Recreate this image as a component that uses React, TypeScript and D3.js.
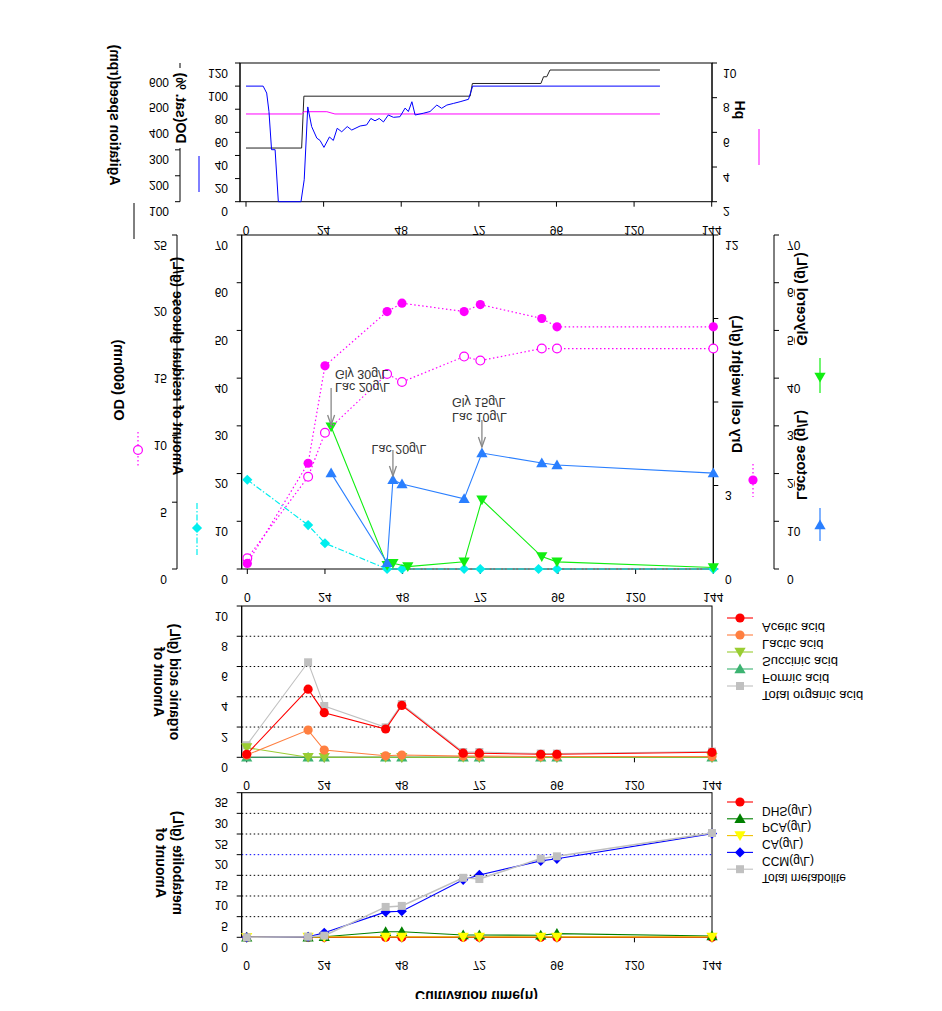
import React from 'react';
import * as d3 from 'd3';

const FONT = '"Liberation Sans", Arial, Helvetica, sans-serif';

// ---------------- shared ----------------
const timeTicks = [0, 24, 48, 72, 96, 120, 144];

// ---------------- panel 1: DO / agitation / pH ----------------
const doTicks = [0, 20, 40, 60, 80, 100, 120];
const agitationTicks = [100, 200, 300, 400, 500, 600];
const phTicks = [2, 4, 6, 8, 10];

const doTime = [0, 5.3, 6.4, 7.1, 7.9, 9.0, 10.0, 17.0, 18.0, 19.1, 20.3, 21.9, 22.9, 24.1, 25.8, 27.0, 28.2, 29.6, 31.3, 32.7, 35.3, 37.3, 38.6, 39.9, 41.2, 42.5, 44.0, 45.6, 47.6, 49.2, 50.2, 51.3, 52.3, 54.8, 56.9, 59.0, 60.5, 62.1, 64.1, 66.2, 68.8, 70.1, 128];
const doValues = [100, 100, 94, 78, 45, 45, 0, 0, 19, 82, 65, 55, 53, 47, 56, 53, 63.5, 60.5, 65, 62, 65.5, 66.4, 72, 70, 72, 69, 75, 73, 73.5, 81, 78, 86.5, 75, 76.5, 78, 83.6, 80.8, 83.6, 85, 86.5, 88.6, 100, 100];

const agitationTime = [0, 17.2, 17.9, 69.3, 70.0, 91.2, 92.0, 93.0, 94.0, 128];
const agitationValues = [307, 307, 507, 507, 556, 556, 582, 582, 608, 608];

const phTime = [0, 17.2, 18.0, 25.0, 27.5, 128];
const phValues = [7.06, 7.06, 7.19, 7.19, 7.06, 7.06];

// ---------------- panel 2: growth, substrates ----------------
const glucoseTicks = [0, 10, 20, 30, 40, 50, 60, 70];
const odTicks = [0, 5, 10, 15, 20, 25];
const dcwTicks = [0, 3, 6, 9, 12];
const lacGlyTicks = [0, 10, 20, 30, 40, 50, 60, 70];

const odTime = [0, 18.8, 24, 43.2, 47.8, 67, 72, 91, 95.7, 144];
const odValues = [0.8, 6.9, 10.2, 14.6, 14.0, 15.9, 15.6, 16.5, 16.5, 16.5];
const dcwValues = [0.2, 3.8, 7.3, 9.25, 9.55, 9.25, 9.5, 9.0, 8.7, 8.7];

const glucoseTime = [0, 18.8, 24, 43.2, 47.8, 67, 72, 90, 95.7, 144];
const glucoseValues = [18.7, 9.2, 5.4, 0, 0, 0, 0, 0, 0, 0];

const lactoseTime = [25.9, 43.2, 45, 47.8, 67, 72.5, 91, 95.7, 144];
const lactoseValues = [20.1, 1.3, 18.7, 17.8, 14.7, 24.3, 22.2, 21.8, 20.1];

const glycerolTime = [25.9, 43.2, 45, 49.6, 67, 72.5, 91, 95.7, 144];
const glycerolValues = [29.8, 0.8, 1.2, 0.5, 1.5, 14.5, 2.6, 1.5, 0.3];

const feedTimes = [25.9, 45, 72.5];
const feedLabels = [["Gly 30g/L", "Lac 20g/L"], ["Lac 20g/L"], ["Gly 15g/L", "Lac 10g/L"]];

// ---------------- panel 3: organic acids ----------------
const acidTicks = [0, 2, 4, 6, 8, 10];
const acidTime = [0, 19, 24, 43, 48, 67, 72, 91, 96, 144];
const aceticValues = [0.2, 4.5, 2.95, 1.87, 3.43, 0.27, 0.27, 0.2, 0.2, 0.33];
const lacticValues = [0.15, 1.8, 0.48, 0.1, 0.15, 0.08, 0.08, 0.05, 0.05, 0.05];
const succinicValues = [0.64, 0, 0, 0, 0, 0, 0, 0, 0, 0];
const formicValues = [0, 0, 0, 0, 0, 0, 0, 0, 0, 0];
const totalAcidValues = [0.8, 6.28, 3.39, 1.98, 3.52, 0.35, 0.35, 0.25, 0.25, 0.38];
const acidNames = ["Acetic acid", "Lactic acid", "Succinic acid", "Formic acid", "Total organic acid"];

// ---------------- panel 4: metabolites ----------------
const metTicks = [0, 5, 10, 15, 20, 25, 30, 35];
const metTime = [0, 19, 24, 43, 48, 67, 72, 91, 96, 144];
const dhsValues = [0, 0, 0, 0, 0, 0, 0, 0, 0, 0];
const pcaValues = [0, 0, 0.15, 1.35, 1.35, 0.55, 0.55, 0.5, 0.9, 0.3];
const caValues = [0, 0.05, 0.1, 0.1, 0.1, 0.1, 0.1, 0.1, 0.1, 0.1];
const ccmValues = [0, 0.1, 1.1, 6.15, 6.3, 13.9, 15.1, 18.5, 19.0, 25.1];
const totalMetValues = [0, 0.15, 0.4, 7.35, 7.6, 14.4, 14.1, 19.05, 19.6, 25.25];
const metNames = ["DHS(g/L)", "PCA(g/L)", "CA(g/L)", "CCM(g/L)", "Total metabolite"];

// ---------------- helpers ----------------
type TP = { x: number; y: number; children: React.ReactNode; anchor?: string; size?: number; weight?: number; fill?: string; rotate?: boolean };
function FT({ x, y, children, anchor = 'middle', size = 12, weight = 400, fill = '#000', rotate = false }: TP) {
  return (
    <text
      transform={`translate(${x},${y})${rotate ? ' rotate(-90)' : ''} scale(1,-1)`}
      textAnchor={anchor}
      dominantBaseline="central"
      fontSize={size}
      fontWeight={weight}
      fill={fill}
      fontFamily={FONT}
    >
      {children}
    </text>
  );
}

const triPath = d3.symbol().type(d3.symbolTriangle).size(55)()!;
const sqPath = d3.symbol().type(d3.symbolSquare).size(52)()!;
const sq2Path = d3.symbol().type(d3.symbolSquare).size(64)()!;

function Marker({ kind, x, y, color }: { kind: string; x: number; y: number; color: string }) {
  switch (kind) {
    case 'circle':
      return <circle cx={x} cy={y} r={4.6} fill={color} />;
    case 'open':
      return <circle cx={x} cy={y} r={4.4} fill="#fff" stroke={color} strokeWidth={1.2} />;
    case 'up':
      return <path d={triPath} transform={`translate(${x},${y + 1})`} fill={color} />;
    case 'down':
      return <path d={triPath} transform={`translate(${x},${y - 1}) rotate(180)`} fill={color} />;
    case 'diamond':
      return <path d={sqPath} transform={`translate(${x},${y}) rotate(45)`} fill={color} />;
    case 'square':
      return <path d={sq2Path} transform={`translate(${x},${y})`} fill={color} />;
    default:
      return null;
  }
}

function Series({ xs, ys, sx, sy, color, kind, dash, width = 1, lineColor }: any) {
  const line = d3.line<number>().x((_, i) => sx(xs[i])).y((d) => sy(d));
  return (
    <g>
      <path d={line(ys) || ''} fill="none" stroke={lineColor || color} strokeWidth={width} strokeDasharray={dash} />
      {ys.map((v: number, i: number) => (
        <Marker key={i} kind={kind} x={sx(xs[i])} y={sy(v)} color={color} />
      ))}
    </g>
  );
}

function LeftAxis({ x, scale, ticks, labelX }: any) {
  const [r0, r1] = scale.range();
  return (
    <g>
      <line x1={x} x2={x} y1={r0} y2={r1} stroke="#000" />
      {ticks.map((t: number) => (
        <g key={t}>
          <line x1={x - 5} x2={x} y1={scale(t)} y2={scale(t)} stroke="#000" />
          <FT x={labelX} y={scale(t) + 9.5} anchor="end">{t}</FT>
        </g>
      ))}
    </g>
  );
}

function RightAxis({ x, scale, ticks, labelX }: any) {
  const [r0, r1] = scale.range();
  return (
    <g>
      <line x1={x} x2={x} y1={r0} y2={r1} stroke="#000" />
      {ticks.map((t: number) => (
        <g key={t}>
          <line x1={x} x2={x + 5} y1={scale(t)} y2={scale(t)} stroke="#000" />
          <FT x={labelX} y={scale(t) + 9.5} anchor="start">{t}</FT>
        </g>
      ))}
    </g>
  );
}

function BottomAxis({ y, scale }: any) {
  return (
    <g>
      {timeTicks.map((t) => (
        <g key={t}>
          <line x1={scale(t)} x2={scale(t)} y1={y} y2={y + 5} stroke="#000" />
          <FT x={scale(t)} y={y + 28}>{t}</FT>
        </g>
      ))}
    </g>
  );
}

function Frame({ p }: any) {
  return <rect x={p.left} y={p.top} width={p.right - p.left} height={p.bottom - p.top} fill="none" stroke="#000" />;
}

export default function App() {
  // ---- panel 1 ----
  const p1 = { left: 240, right: 712, top: 63, bottom: 201.7 };
  const x1 = d3.scaleLinear().domain([0, 144]).range([246, 711.7]);
  const yDO = d3.scaleLinear().domain([0, 120]).range([p1.bottom, p1.top]);
  const yAg = d3.scaleLinear().domain([100, 635]).range([p1.bottom, p1.top]);
  const yPH = d3.scaleLinear().domain([2, 10]).range([p1.bottom, p1.top]);
  const l1 = (xs: number[], sy: any) => d3.line<number>().x((_, i) => x1(xs[i])).y((d) => sy(d));

  // ---- panel 2 ----
  const p2 = { left: 241.7, right: 713.3, top: 235, bottom: 569 };
  const x2 = d3.scaleLinear().domain([0, 144]).range([247.3, 713.3]);
  const yGlu = d3.scaleLinear().domain([0, 70]).range([p2.bottom, p2.top]);
  const yOD = d3.scaleLinear().domain([0, 25]).range([p2.bottom, p2.top]);
  const yDCW = d3.scaleLinear().domain([0, 12]).range([p2.bottom, p2.top]);
  const yLG = d3.scaleLinear().domain([0, 70]).range([p2.bottom, p2.top]);

  // ---- panel 3 ----
  const p3 = { left: 241.7, right: 712, top: 606, bottom: 757.3 };
  const x3 = d3.scaleLinear().domain([0, 144]).range([246.7, 712]);
  const yAcid = d3.scaleLinear().domain([0, 10]).range([p3.bottom, p3.top]);

  // ---- panel 4 ----
  const p4 = { left: 241.7, right: 712, top: 792.7, bottom: 937.3 };
  const x4 = d3.scaleLinear().domain([0, 144]).range([246.7, 712]);
  const yMet = d3.scaleLinear().domain([0, 35]).range([p4.bottom, p4.top]);

  const MAG = '#ff00ff';
  const CYAN = '#00eeee';
  const BLUE = '#2a7fff';
  const GREEN = '#11ee11';
  const ARROW = '#888888';

  const acidSeries = [
    { v: aceticValues, color: '#ff0000', kind: 'circle' },
    { v: lacticValues, color: '#ff7f40', kind: 'circle' },
    { v: succinicValues, color: '#9acd32', kind: 'down' },
    { v: formicValues, color: '#3cb371', kind: 'up' },
    { v: totalAcidValues, color: '#c0c0c0', kind: 'square' },
  ];
  const acidDrawOrder = [4, 3, 2, 1, 0];

  const metSeries = [
    { v: dhsValues, color: '#ff0000', kind: 'circle', line: '#ff0000' },
    { v: pcaValues, color: '#008000', kind: 'up', line: '#008000' },
    { v: caValues, color: '#ffff00', kind: 'down', line: '#f0c000' },
    { v: ccmValues, color: '#0000ff', kind: 'diamond', line: '#0000ff' },
    { v: totalMetValues, color: '#c0c0c0', kind: 'square', line: '#c0c0c0' },
  ];

  const arrowLayout = [
    { top: 388, tip: 425, textX: 335, anchor: 'start', textY: [374, 387] },
    { top: 450, tip: 476, textX: 399, anchor: 'middle', textY: [449] },
    { top: 420, tip: 447, textX: 452, anchor: 'start', textY: [402, 417] },
  ];

  return (
    <svg width={942} height={1011} style={{ position: 'absolute', left: 0, top: 0, background: '#fff' }} fontFamily={FONT}>
      <defs>
        <clipPath id="xtitleClip">
          <rect x={300} y={980} width={350} height={19} />
        </clipPath>
      </defs>
      <rect x={0} y={0} width={942} height={1011} fill="#fff" />

      {/* ================= PANEL 1 ================= */}
      <Frame p={p1} />
      <path d={l1(agitationTime, yAg)(agitationValues) || ''} fill="none" stroke="#222" strokeWidth={1} />
      <path d={l1(phTime, yPH)(phValues) || ''} fill="none" stroke={MAG} strokeWidth={1} />
      <path d={l1(doTime, yDO)(doValues) || ''} fill="none" stroke="#0000ff" strokeWidth={1} />
      <LeftAxis x={p1.left} scale={yDO} ticks={doTicks} labelX={228} />
      <line x1={180} x2={180} y1={p1.bottom} y2={p1.top} stroke="#000" />
      {agitationTicks.map((t) => (
        <g key={t}>
          <line x1={175} x2={180} y1={yAg(t)} y2={yAg(t)} stroke="#000" />
          <FT x={169} y={yAg(t) + 9.5} anchor="end">{t}</FT>
        </g>
      ))}
      <RightAxis x={p1.right} scale={yPH} ticks={phTicks} labelX={723} />
      <BottomAxis y={p1.bottom} scale={x1} />
      {/* titles */}
      <rect x={174} y={68} width={15} height={80} fill="#fff" />
      <FT x={181} y={108} rotate size={14} weight={700}>DO(sat. %)</FT>
      <FT x={115} y={115} rotate size={14} weight={700}>Agitation speed(rpm)</FT>
      <FT x={740} y={110} rotate size={14} weight={700}>pH</FT>
      {/* legend strokes */}
      <line x1={134} x2={134} y1={203} y2={239} stroke="#000" />
      <line x1={199} x2={199} y1={156} y2={192} stroke="#0000ff" />
      <line x1={759} x2={759} y1={129} y2={165} stroke={MAG} />

      {/* ================= PANEL 2 ================= */}
      <Frame p={p2} />
      <LeftAxis x={p2.left} scale={yGlu} ticks={glucoseTicks} labelX={228} />
      <LeftAxis x={177} scale={yOD} ticks={odTicks} labelX={167} />
      <RightAxis x={p2.right} scale={yDCW} ticks={dcwTicks} labelX={725} />
      <RightAxis x={774} scale={yLG} ticks={lacGlyTicks} labelX={787} />
      <BottomAxis y={p2.bottom} scale={x2} />
      <Series xs={glucoseTime} ys={glucoseValues} sx={x2} sy={yGlu} color={CYAN} kind="diamond" dash="6,2,1.5,2" width={1.2} />
      <Series xs={glycerolTime} ys={glycerolValues} sx={x2} sy={yLG} color={GREEN} kind="down" width={1.1} />
      <Series xs={lactoseTime} ys={lactoseValues} sx={x2} sy={yLG} color={BLUE} kind="up" width={1.1} />
      <Series xs={odTime} ys={odValues} sx={x2} sy={yOD} color={MAG} kind="open" dash="1.5,2.5" width={1.2} />
      <Series xs={odTime} ys={dcwValues} sx={x2} sy={yDCW} color={MAG} kind="circle" dash="1.5,2.5" width={1.2} />

      {/* arrows + annotations */}
      {feedTimes.map((t, i) => {
        const a = arrowLayout[i];
        const ax = x2(t);
        return (
          <g key={i}>
            <line x1={ax} x2={ax} y1={a.top} y2={a.tip} stroke={ARROW} strokeWidth={1.3} />
            <path d={`M${ax - 3.5},${a.tip - 10} L${ax},${a.tip} L${ax + 3.5},${a.tip - 10}`} fill="none" stroke={ARROW} strokeWidth={1.3} />
            {feedLabels[i].map((s, j) => (
              <FT key={j} x={a.textX} y={a.textY[j]} anchor={a.anchor} size={12.5} fill="#333">{s}</FT>
            ))}
          </g>
        );
      })}

      {/* titles */}
      <FT x={119} y={380} rotate size={14.5} weight={700}>OD (600nm)</FT>
      <FT x={178} y={366} rotate size={14} weight={700}>Amount of residual glucose (g/L)</FT>
      <rect x={724} y={308} width={22} height={152} fill="#fff" />
      <FT x={737} y={384} rotate size={14.5} weight={700}>Dry cell weight (g/L)</FT>
      <rect x={795} y={250} width={16} height={100} fill="#fff" />
      <FT x={802} y={299} rotate size={14.5} weight={700}>Glycerol (g/L)</FT>
      <rect x={795} y={405} width={16} height={100} fill="#fff" />
      <FT x={802} y={455} rotate size={14.5} weight={700}>Lactose (g/L)</FT>

      {/* legend keys */}
      <line x1={138} x2={138} y1={432} y2={468} stroke={MAG} strokeDasharray="1.5,2.5" strokeWidth={1.2} />
      <Marker kind="open" x={138} y={450} color={MAG} />
      <line x1={197} x2={197} y1={503} y2={557} stroke={CYAN} strokeDasharray="6,2,1.5,2" strokeWidth={1.2} />
      <Marker kind="diamond" x={197} y={528} color={CYAN} />
      <line x1={753} x2={753} y1={464} y2={497} stroke={MAG} strokeDasharray="1.5,2.5" strokeWidth={1.2} />
      <Marker kind="circle" x={753} y={480} color={MAG} />
      <line x1={820} x2={820} y1={358} y2={393} stroke={GREEN} strokeWidth={1.2} />
      <Marker kind="down" x={820} y={377} color={GREEN} />
      <line x1={820} x2={820} y1={508} y2={541} stroke={BLUE} strokeWidth={1.2} />
      <Marker kind="up" x={820} y={525} color={BLUE} />

      {/* ================= PANEL 3 ================= */}
      <Frame p={p3} />
      {[2, 4, 6, 8].map((g) => (
        <line key={g} x1={p3.left} x2={p3.right} y1={yAcid(g)} y2={yAcid(g)} stroke="#000" strokeDasharray="1.5,2.5" />
      ))}
      <LeftAxis x={p3.left} scale={yAcid} ticks={acidTicks} labelX={228} />
      <BottomAxis y={p3.bottom} scale={x3} />
      {acidDrawOrder.map((k) => (
        <Series key={k} xs={acidTime} ys={acidSeries[k].v} sx={x3} sy={yAcid} color={acidSeries[k].color} kind={acidSeries[k].kind} width={1.1} />
      ))}
      <FT x={159} y={682} rotate size={14} weight={700}>Amount of</FT>
      <FT x={175} y={682} rotate size={14} weight={700}>organic acid (g/L)</FT>
      {acidSeries.map((s, i) => {
        const ry = 618 + i * 17;
        return (
          <g key={i}>
            <line x1={727} x2={753} y1={ry} y2={ry} stroke={s.color} strokeWidth={1.1} />
            <Marker kind={s.kind} x={740} y={ry} color={s.color} />
            <FT x={762} y={ry + 9} anchor="start" size={13}>{acidNames[i]}</FT>
          </g>
        );
      })}

      {/* ================= PANEL 4 ================= */}
      <Frame p={p4} />
      {[5, 10, 15, 20, 25, 30].map((g) => (
        <line key={g} x1={p4.left} x2={p4.right} y1={yMet(g)} y2={yMet(g)} stroke={g === 20 ? '#0000ff' : '#000'} strokeDasharray="1.5,2.5" />
      ))}
      <LeftAxis x={p4.left} scale={yMet} ticks={metTicks} labelX={228} />
      <BottomAxis y={p4.bottom} scale={x4} />
      {metSeries.map((s, k) => (
        <Series key={k} xs={metTime} ys={s.v} sx={x4} sy={yMet} color={s.color} lineColor={s.line} kind={s.kind} width={k === 4 ? 1.5 : 1.1} />
      ))}
      <FT x={161} y={863} rotate size={14} weight={700}>Amount of</FT>
      <FT x={178} y={863} rotate size={14} weight={700}>metabolite (g/L)</FT>
      {metSeries.map((s, i) => {
        const ry = 802 + i * 16.8;
        return (
          <g key={i}>
            <line x1={727} x2={753} y1={ry} y2={ry} stroke={s.line} strokeWidth={1.1} />
            <Marker kind={s.kind} x={740} y={ry} color={s.color} />
            <FT x={762} y={ry + 8.5} anchor="start" size={12}>{metNames[i]}</FT>
          </g>
        );
      })}
      <g clipPath="url(#xtitleClip)">
        <FT x={476.5} y={996} size={14} weight={700}>Cultivation time(h)</FT>
      </g>
    </svg>
  );
}
